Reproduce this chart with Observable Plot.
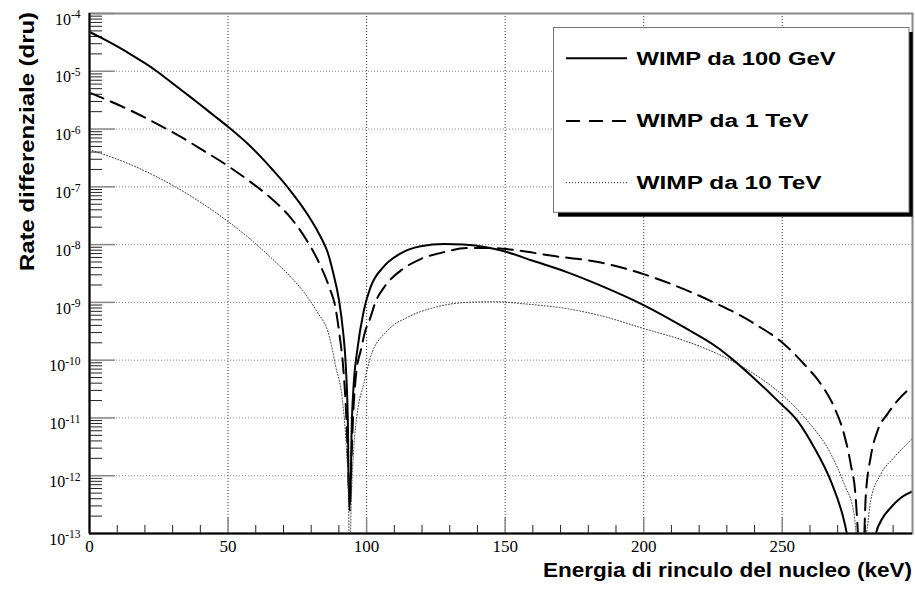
<!DOCTYPE html>
<html>
<head>
<meta charset="utf-8">
<script src="https://cdn.jsdelivr.net/npm/d3@7"></script>
<script src="https://cdn.jsdelivr.net/npm/@observablehq/plot@0.6"></script>
<style>
  html, body { margin: 0; padding: 0; background: white; }
  #chart svg { display: block; }
</style>
</head>
<body>
<div id="chart"></div>
<script>
// ---------- data ----------
const seriesLabels = ["WIMP da 100 GeV", "WIMP da 1 TeV", "WIMP da 10 TeV"];

// energy (keV) and log10 of differential rate (dru)
const energy100GeV = [0,5,10,15,20,25,30,36,40,45,50,57,62,66,70,73,76,79,82,84,86,88,90,91.5,92.5,93.2,93.7,94.1,94.6,95.3,96.6,99,101.4,106,112,119.5,128,135,143.6,150,160,172.5,184.5,200.5,214.5,226.6,231.4,238.6,248.3,255.5,261.5,267.5,272.3,274.5,279,283.8,286,289.2,292.8,297];
const logRate100GeV = [-4.32,-4.44,-4.57,-4.71,-4.86,-5.025,-5.21,-5.43,-5.58,-5.77,-5.96,-6.25,-6.49,-6.70,-6.92,-7.10,-7.29,-7.50,-7.74,-7.92,-8.14,-8.50,-8.95,-9.50,-10.10,-11.00,-12.50,-12.50,-11.20,-10.45,-9.84,-9.14,-8.74,-8.39,-8.16,-8.03,-7.99,-8.00,-8.05,-8.12,-8.28,-8.48,-8.71,-9.06,-9.43,-9.78,-9.96,-10.26,-10.70,-11.05,-11.51,-12.09,-12.78,-13.3,-15,-13.0,-12.75,-12.55,-12.38,-12.27];

const energy1TeV = [0,7,14,24,33.5,40.7,50,57.4,64.6,71.8,77.8,82.5,86.7,88.5,90.2,91.6,92.6,93.4,93.9,94.4,95.2,96.3,97.8,99.5,101.4,103,106.3,112.3,119.5,128,136,146,154.4,166.4,184.5,200.5,214.5,226.6,231.4,241,250.4,257.9,263.9,268.8,272.3,274.7,276.5,277.5,278.5,279.5,280.1,281.9,284.4,288,291.6,295.8,297];
const logRate1TeV = [-5.37,-5.51,-5.66,-5.90,-6.15,-6.36,-6.64,-6.89,-7.16,-7.49,-7.88,-8.28,-8.76,-9.03,-9.55,-10.15,-10.90,-11.90,-12.60,-11.90,-10.90,-10.20,-9.85,-9.50,-9.26,-9.02,-8.74,-8.45,-8.25,-8.13,-8.06,-8.06,-8.10,-8.19,-8.31,-8.52,-8.77,-9.03,-9.14,-9.40,-9.71,-10.07,-10.41,-10.82,-11.28,-11.80,-12.38,-13.2,-14.5,-13.2,-12.38,-11.68,-11.22,-10.93,-10.70,-10.50,-10.46];

const energy10TeV = [0,7,15.6,24,31,39.5,50,57.4,65.8,73,77,81.8,86.6,88.9,91.3,92.5,93.4,93.9,94.5,95.4,96.6,99,101.4,107.5,114.7,124.3,136.3,146,158,172.5,184.5,200.5,214.5,226.6,238.6,250.4,259.1,267.5,272.3,275.9,277.8,280.7,281.9,285.6,290.4,297];
const logRate10TeV = [-6.36,-6.47,-6.63,-6.82,-7.00,-7.25,-7.60,-7.88,-8.24,-8.58,-8.80,-9.14,-9.60,-10.12,-10.70,-11.37,-12.26,-13.5,-12.38,-11.51,-10.93,-10.41,-9.95,-9.49,-9.26,-9.09,-9.00,-8.99,-9.03,-9.11,-9.23,-9.46,-9.66,-9.89,-10.20,-10.62,-11.05,-11.62,-12.14,-12.66,-13.5,-12.9,-12.43,-11.97,-11.68,-11.36];

// axes
const xDomain = [0, 297];
const xMajorTicks = [0, 50, 100, 150, 200, 250];
const xMinorTicks = [10,20,30,40,60,70,80,90,110,120,130,140,160,170,180,190,210,220,230,240,260,270,280,290];
const yDecadeExponents = [-13,-12,-11,-10,-9,-8,-7,-6,-5,-4];
const yMinorMantissas = [2,3,4,5,6,7,8,9];

const xTitle = "Energia di rinculo del nucleo (keV)";
const yTitle = "Rate differenziale (dru)";

// ---------- tables ----------
const toRows = (es, ls) => es.map((e, i) => ({E: e, R: Math.pow(10, ls[i])}));
const rows100GeV = toRows(energy100GeV, logRate100GeV);
const rows1TeV = toRows(energy1TeV, logRate1TeV);
const rows10TeV = toRows(energy10TeV, logRate10TeV);

const yDecades = yDecadeExponents.map(e => Math.pow(10, e));
const yMinor = [];
for (const e of yDecadeExponents.slice(0, -1)) for (const m of yMinorMantissas) yMinor.push(m * Math.pow(10, e));

const W = 915, H = 591;
const mL = 89, mR = 3, mT = 13, mB = 58;
const innerW = W - mL - mR, innerH = H - mT - mB;

const SERIF = "'Liberation Serif', 'Times New Roman', serif";
const SANS = "'Liberation Sans', Arial, Helvetica, sans-serif";

const styles = [
  {stroke: "black", strokeWidth: 2, strokeDasharray: null},
  {stroke: "black", strokeWidth: 2, strokeDasharray: "15,8"},
  {stroke: "#333", strokeWidth: 1, strokeDasharray: "1,2"}
];

const svg = Plot.plot({
  width: W, height: H,
  marginLeft: mL, marginRight: mR, marginTop: mT, marginBottom: mB,
  style: {background: "white", fontFamily: SERIF, fontSize: "16px", color: "black"},
  x: {domain: xDomain},
  y: {type: "log", domain: [yDecades[0], yDecades[yDecades.length - 1]]},
  marks: [
    // grid
    Plot.ruleY(yDecades.slice(1, -1), {stroke: "#888", strokeWidth: 1, strokeDasharray: "1,2"}),
    Plot.ruleX(xMajorTicks.slice(1), {stroke: "#333", strokeWidth: 1, strokeDasharray: "1,2"}),
    // inward ticks
    Plot.tickY(yMinor, {y: d => d, insetRight: innerW - 13, stroke: "#222", strokeWidth: 1}),
    Plot.tickY(yDecades, {y: d => d, insetRight: innerW - 26, stroke: "#888", strokeWidth: 1.5}),
    Plot.tickX(xMinorTicks, {x: d => d, insetTop: innerH - 8, stroke: "#222", strokeWidth: 1}),
    Plot.tickX(xMajorTicks, {x: d => d, insetTop: innerH - 16, stroke: "#888", strokeWidth: 1.5}),
    // curves
    Plot.line(rows100GeV, {x: "E", y: "R", clip: true, curve: "monotone-x", ...styles[0]}),
    Plot.line(rows1TeV, {x: "E", y: "R", clip: true, curve: "monotone-x", ...styles[1]}),
    Plot.line(rows10TeV, {x: "E", y: "R", clip: true, curve: "monotone-x", ...styles[2]}),
    // frame and axes lines
    Plot.frame({stroke: "#888", strokeWidth: 2}),
    Plot.ruleX([xDomain[0]], {stroke: "black", strokeWidth: 2}),
    Plot.ruleY([yDecades[0]], {stroke: "black", strokeWidth: 2}),
    // tick labels
    Plot.axisX({ticks: xMajorTicks, tickSize: 0, tickPadding: 6.5, label: null, tickFormat: d => String(d)}),
    Plot.axisY({ticks: yDecades, tickSize: 0, tickPadding: 9, dy: 6, label: null,
                tickFormat: d => "10^" + Math.round(Math.log10(d))})
  ]
});

document.getElementById("chart").appendChild(svg);
const s = d3.select(svg);

s.selectAll('g[aria-label="x-axis tick label"]').attr("font-size", 17);

// turn "10^-4" labels into 10 + superscript
s.selectAll("text").each(function () {
  const t = this.textContent;
  if (!t.startsWith("10^")) return;
  const exp = t.slice(3);
  const el = d3.select(this);
  el.text(null);
  el.append("tspan").text("10");
  el.append("tspan").attr("font-size", 11.5).attr("dy", "-0.55em").text(exp);
});

// axis titles
s.append("text")
  .attr("x", 912).attr("y", 577)
  .attr("text-anchor", "end")
  .attr("font-family", SANS).attr("font-weight", "bold").attr("font-size", 20)
  .attr("textLength", 369).attr("lengthAdjust", "spacingAndGlyphs")
  .text(xTitle);

s.append("text")
  .attr("transform", "translate(33.5,12) rotate(-90)")
  .attr("text-anchor", "end")
  .attr("font-family", SANS).attr("font-weight", "bold").attr("font-size", 20)
  .attr("textLength", 259).attr("lengthAdjust", "spacingAndGlyphs")
  .text(yTitle);

// legend
const lg = s.append("g").attr("aria-label", "legend");
lg.append("rect").attr("x", 558).attr("y", 32).attr("width", 354.7).attr("height", 184.7).attr("fill", "black");
lg.append("rect").attr("x", 553.5).attr("y", 27.5).attr("width", 355.5).attr("height", 184.8)
  .attr("fill", "white").attr("stroke", "#777").attr("stroke-width", 1);
const rowY = [58.3, 121, 182.7];
const textLens = [199, 172, 185];
seriesLabels.forEach((label, i) => {
  lg.append("line").attr("x1", 566).attr("x2", 627).attr("y1", rowY[i]).attr("y2", rowY[i])
    .attr("stroke", styles[i].stroke).attr("stroke-width", styles[i].strokeWidth)
    .attr("stroke-dasharray", styles[i].strokeDasharray === "15,8" ? "14,9" : styles[i].strokeDasharray);
  lg.append("text").attr("x", 636.5).attr("y", rowY[i]).attr("dy", "0.36em")
    .attr("text-anchor", "start")
    .attr("font-family", SANS).attr("font-weight", "bold").attr("font-size", 18)
    .attr("textLength", textLens[i]).attr("lengthAdjust", "spacingAndGlyphs")
    .text(label);
});
</script>
</body>
</html>
